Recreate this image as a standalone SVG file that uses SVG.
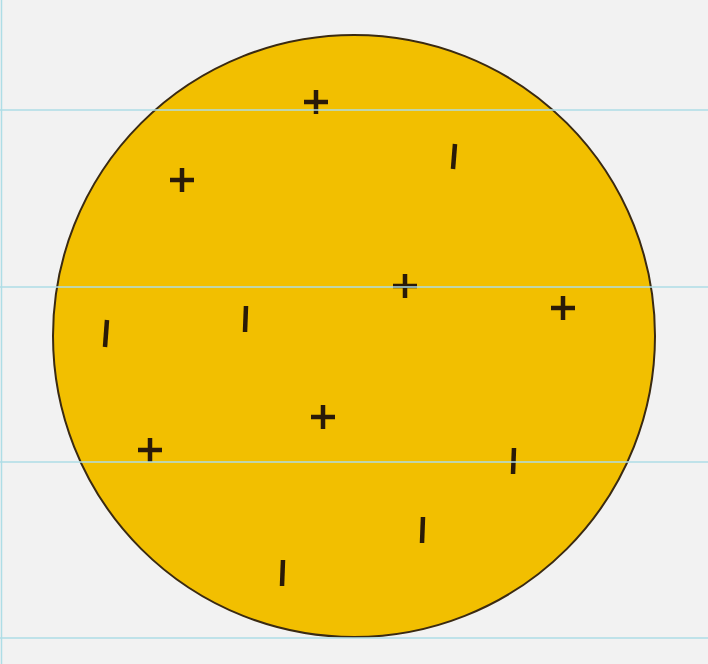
<svg xmlns="http://www.w3.org/2000/svg" width="708" height="664" viewBox="0 0 708 664">
<style>
.sign{stroke:#2a1a08;stroke-width:4.5;stroke-linecap:butt;fill:none}
.guide{stroke:#aedde6;stroke-width:1.5}
</style>
<rect width="708" height="664" fill="#f2f2f2"/>
<g id="disc">
<circle cx="354" cy="336" r="301" fill="#f2bf00" stroke="#3a2a12" stroke-width="2"/>
</g>
<g id="plus-signs" class="sign">
<path d="M304 102h24M316 90v24"/>
<path d="M170 180h24M182 168v24"/>
<path d="M393 286h24M405 274v24"/>
<path d="M551 308h24M563 296v24"/>
<path d="M311 417h24M323 405v24"/>
<path d="M138 450h24M150 438v24"/>
</g>
<g id="minus-signs" class="sign">
<path d="M455 144l-2 25"/>
<path d="M246 306l-1 26"/>
<path d="M107 320l-2 27"/>
<path d="M514 448l-1 26"/>
<path d="M423 517l-1 26"/>
<path d="M283 560l-1 26"/>
</g>
<g id="guides" class="guide">
<line x1="0" y1="110" x2="708" y2="110"/>
<line x1="0" y1="287" x2="708" y2="287"/>
<line x1="0" y1="462" x2="708" y2="462"/>
<line x1="0" y1="638" x2="708" y2="638"/>
<line x1="1.5" y1="0" x2="1.5" y2="664"/>
</g>
</svg>
